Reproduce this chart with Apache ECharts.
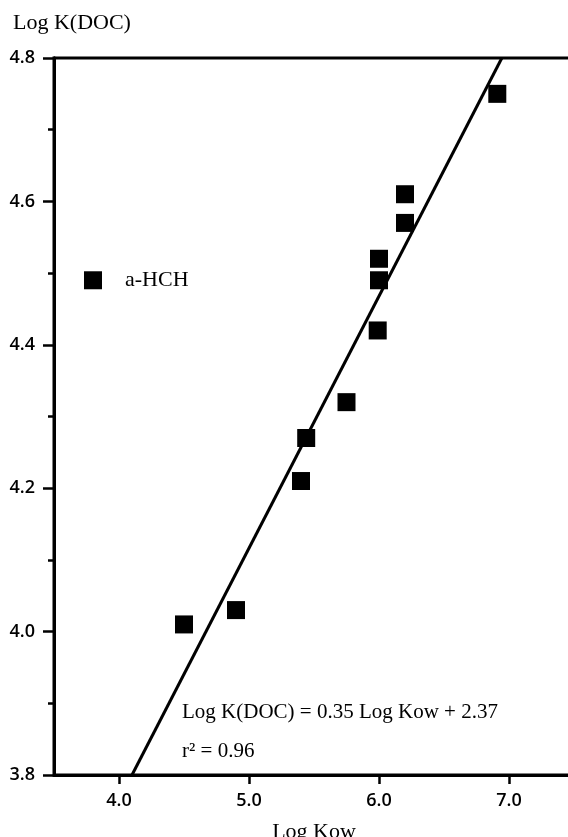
<!DOCTYPE html>
<html>
<head>
<meta charset="utf-8">
<script src="https://cdn.jsdelivr.net/npm/echarts@6/dist/echarts.min.js"></script>
<style>
  html, body { margin: 0; padding: 0; background: #fff; }
  #chartmain { width: 568px; height: 837px; }
</style>
</head>
<body>
<div id="chartmain"></div>
<script>
// 数据点 (Log Kow, Log K(DOC))
var logKow = [4.50, 4.90, 5.40, 5.44, 5.75, 5.99, 6.00, 6.00, 6.20, 6.20, 6.91];
var logKdoc = [4.01, 4.03, 4.21, 4.27, 4.32, 4.42, 4.49, 4.52, 4.57, 4.61, 4.75];
// a-HCH 单独标注
var hchPoint = [3.80, 4.49];
// 回归直线两端
var fitLine = [[4.10, 3.8], [6.945, 4.8]];
var xTicks = [4.0, 5.0, 6.0, 7.0];

var serif = '"Liberation Serif", "DejaVu Serif", serif';
var sans = '"Open Sans", "DejaVu Sans", sans-serif';

var chart = echarts.init(document.getElementById('chartmain'));

var points = [];
for (var i = 0; i < logKow.length; i++) {
    points.push([logKow[i], logKdoc[i]]);
}

var gridBox = { left: 54, top: 58, right: -6, bottom: 62, outerBoundsMode: 'none' };

chart.setOption({
    animation: false,
    backgroundColor: '#fff',
    grid: [
        Object.assign({ show: true, borderColor: '#000', borderWidth: 3 }, gridBox),
        // 第二个网格只用来画 y 轴主刻度
        Object.assign({}, gridBox)
    ],
    xAxis: [{
        type: 'value',
        gridIndex: 0,
        min: 3.5,
        max: 7.5,
        interval: 0.5,
        name: 'Log Kow',
        nameLocation: 'middle',
        nameGap: 46,
        nameTextStyle: { fontFamily: serif, fontSize: 22, color: '#000' },
        axisLine: { show: true, lineStyle: { color: '#000', width: 3 } },
        axisTick: {
            show: true,
            length: 9,
            lineStyle: { color: '#000', width: 2.5 },
            customValues: xTicks
        },
        axisLabel: {
            margin: 17,
            fontFamily: sans,
            fontSize: 18,
            fontWeight: 600,
            color: '#000',
            customValues: xTicks,
            formatter: function (v) { return v.toFixed(1); }
        },
        splitLine: { show: false }
    }, {
        type: 'value',
        gridIndex: 1,
        min: 3.5,
        max: 7.5,
        show: false
    }],
    yAxis: [{
        type: 'value',
        gridIndex: 0,
        min: 3.8,
        max: 4.8,
        interval: 0.2,
        axisLine: { show: true, lineStyle: { color: '#000', width: 3 } },
        axisTick: { show: true, length: 11, lineStyle: { color: '#000', width: 2.5 } },
        minorTick: { show: true, splitNumber: 2, length: 6, lineStyle: { color: '#000', width: 2.5 } },
        axisLabel: {
            margin: 19,
            fontFamily: sans,
            fontSize: 18,
            fontWeight: 600,
            color: '#000',
            formatter: function (v) { return v.toFixed(1); }
        },
        splitLine: { show: false }
    }, {
        type: 'value',
        gridIndex: 1,
        min: 3.8,
        max: 4.8,
        interval: 0.2,
        axisLine: { show: true, lineStyle: { color: '#000', width: 3 } },
        axisTick: { show: true, length: 11, lineStyle: { color: '#000', width: 2.5 } },
        axisLabel: { show: false },
        splitLine: { show: false }
    }],
    graphic: [{
        type: 'text',
        left: 13,
        top: 12,
        style: { text: 'Log K(DOC)', font: '22px ' + serif, fill: '#000' }
    }, {
        type: 'text',
        left: 182,
        top: 702,
        style: { text: 'Log K(DOC) = 0.35 Log Kow + 2.37', font: '21px ' + serif, fill: '#000' }
    }, {
        type: 'text',
        left: 182,
        top: 741,
        style: { text: 'r\u00b2 = 0.96', font: '21px ' + serif, fill: '#000' }
    }],
    series: [{
        name: 'fit',
        type: 'line',
        data: fitLine,
        symbol: 'none',
        lineStyle: { color: '#000', width: 3 },
        z: 2
    }, {
        name: 'data',
        type: 'scatter',
        symbol: 'rect',
        symbolSize: 18,
        itemStyle: { color: '#000', opacity: 1 },
        data: points,
        z: 3
    }, {
        name: 'a-HCH',
        type: 'scatter',
        symbol: 'rect',
        symbolSize: 18,
        itemStyle: { color: '#000', opacity: 1 },
        data: [hchPoint],
        label: {
            show: true,
            position: 'right',
            distance: 23,
            formatter: 'a-HCH',
            fontFamily: serif,
            fontSize: 22,
            color: '#000'
        },
        z: 3
    }]
});
</script>
</body>
</html>
